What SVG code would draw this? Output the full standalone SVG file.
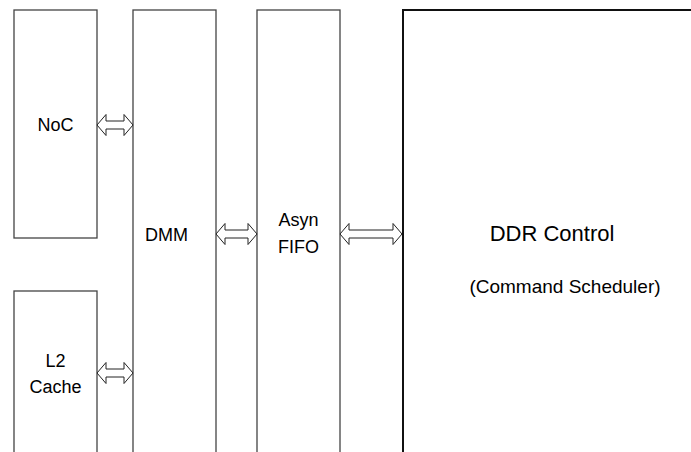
<svg xmlns="http://www.w3.org/2000/svg" width="691" height="452" viewBox="0 0 691 452">
<style>
.box{fill:#fff;stroke:#444;stroke-width:1.3}
.big{fill:#fff;stroke:#111;stroke-width:2}
.arr{fill:#fff;stroke:#222;stroke-width:1}
text{font-family:"Liberation Sans",Arial,sans-serif;fill:#000;text-anchor:middle}
.s{font-size:18px}
</style>
<rect width="691" height="452" fill="#fff"/>
<g id="noc"><rect class="box" x="14" y="10" width="83" height="228"/><text class="s" x="55.5" y="131">NoC</text></g>
<g id="l2cache"><rect class="box" x="14" y="291" width="83" height="175"/><text class="s" x="55.5" y="367">L2</text><text class="s" x="55.5" y="393">Cache</text></g>
<g id="dmm"><rect class="box" x="133" y="10" width="83" height="460"/><text class="s" x="166.5" y="241">DMM</text></g>
<g id="fifo"><rect class="box" x="257" y="10" width="83" height="460"/><text class="s" x="298.5" y="226">Asyn</text><text class="s" x="298.5" y="253">FIFO</text></g>
<g id="ddr"><rect class="big" x="403" y="10" width="310" height="460"/><text x="552" y="241" style="font-size:22px">DDR Control</text><text x="565" y="293" style="font-size:19px">(Command Scheduler)</text></g>
<g id="connectors">
<path class="arr" d="M97,125 L106,114.5 L106,121 L124,121 L124,114.5 L133,125 L124,135.5 L124,129 L106,129 L106,135.5 Z"/>
<path class="arr" d="M97,373 L106,362.5 L106,369 L124,369 L124,362.5 L133,373 L124,383.5 L124,377 L106,377 L106,383.5 Z"/>
<path class="arr" d="M216,234 L225,223.5 L225,230 L248,230 L248,223.5 L257,234 L248,244.5 L248,238 L225,238 L225,244.5 Z"/>
<path class="arr" d="M340,234 L349,223.5 L349,230 L393,230 L393,223.5 L402,234 L393,244.5 L393,238 L349,238 L349,244.5 Z"/>
</g>
</svg>
